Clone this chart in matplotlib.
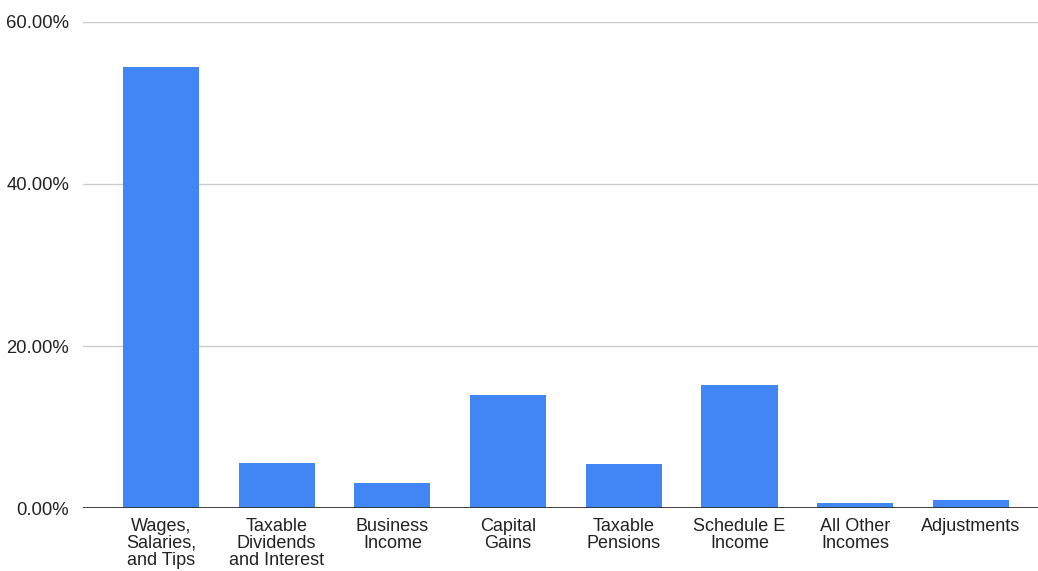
import matplotlib.pyplot as plt
from matplotlib.ticker import FuncFormatter, MultipleLocator

plt.rcParams['font.family'] = ['Liberation Sans', 'DejaVu Sans']

categories = ["Wages,\nSalaries,\nand Tips", "Taxable\nDividends\nand Interest",
              "Business\nIncome", "Capital\nGains", "Taxable\nPensions",
              "Schedule E\nIncome", "All Other\nIncomes", "Adjustments"]
shares = [54.4, 5.6, 3.1, 14.0, 5.4, 15.2, 0.65, 1.0]

fig = plt.figure(figsize=(10.38, 5.71), dpi=100)
ax = fig.add_axes([0.08, 0.1103, 0.92, 0.8512])

x = range(len(categories))
ax.bar(x, shares, width=0.657, color='#4285f4', zorder=3)

ax.set_ylim(0, 60)
ax.set_xlim(-0.674, 7.58)
ax.yaxis.set_major_locator(MultipleLocator(20))
ax.yaxis.set_major_formatter(FuncFormatter(lambda v, p: f"{v:.2f}%"))
ax.grid(axis='y', color='#cccccc', linewidth=1, zorder=0)
ax.axhline(0, color='#333333', linewidth=1.3, zorder=4)

ax.set_xticks(list(x))
ax.set_xticklabels(categories, fontsize=13, linespacing=1.0, va='top')
ax.tick_params(axis='y', labelsize=13.3, length=0, pad=10, labelcolor='#222222')
ax.tick_params(axis='x', length=0, pad=7, labelcolor='#222222')
for s in ax.spines.values():
    s.set_visible(False)

plt.savefig("out.png", dpi=100)
